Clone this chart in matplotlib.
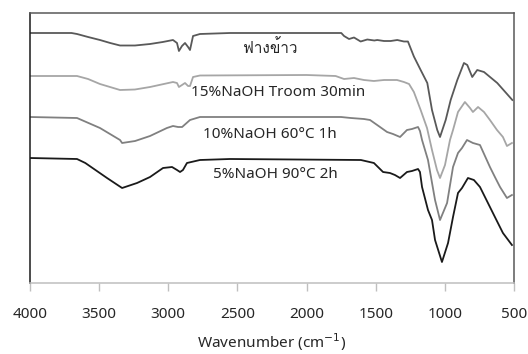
import matplotlib
matplotlib.use('Agg')
import matplotlib.pyplot as plt
from matplotlib import font_manager
from fontTools.ttLib import TTFont

# wavenumber (cm-1) and transmittance (a.u., curves offset)
w_straw = [4000, 3700, 3660, 3580, 3494, 3420, 3349, 3241, 3132, 3040, 2966, 2937, 2923, 2901, 2879,
           2857, 2843, 2821, 2771, 2554, 2000, 1749, 1729, 1693, 1657, 1609, 1561, 1510, 1489, 1440,
           1392, 1344, 1296, 1267, 1224, 1175, 1127, 1093, 1055, 1035, 994, 958, 910, 862, 838, 802,
           766, 717, 621, 512]
t_straw = [250, 250, 249, 246, 243, 240, 237.5, 237.5, 239, 241, 243, 240, 232, 237, 240,
           236, 233, 247, 249, 250, 250, 250, 247, 244, 245.5, 241.5, 243.5, 242.5, 243, 242,
           242, 243, 241.5, 241.5, 226.5, 213, 200, 173, 153, 146, 163, 183, 203, 220, 218, 206,
           213, 211, 200, 183]

w_15 = [4000, 3660, 3580, 3494, 3349, 3241, 3132, 2966, 2937, 2923, 2901, 2879, 2857, 2843, 2821,
        2771, 2000, 1790, 1729, 1657, 1585, 1513, 1440, 1346, 1296, 1259, 1224, 1175, 1129, 1093,
        1057, 1035, 999, 963, 941, 905, 855, 818, 797, 760, 717, 674, 623, 580, 551, 515]
t_15 = [207, 207, 204, 199, 193, 193.5, 196, 201, 200, 196, 198, 200, 197, 197, 206,
        207.5, 208, 207, 204, 205, 203, 202, 203, 203, 201, 199, 191, 173, 155, 133,
        113, 105, 118, 143, 153, 171, 181, 175, 171, 176, 171, 163, 153, 146, 137, 140]

w_10 = [4000, 3660, 3494, 3349, 3334, 3240, 3132, 3010, 2966, 2929, 2900, 2843, 2771, 1751, 1680,
        1585, 1541, 1469, 1418, 1375, 1324, 1274, 1238, 1194, 1180, 1165, 1122, 1071, 1035, 984,
        941, 905, 876, 840, 797, 746, 674, 638, 601, 551, 515]
t_10 = [166, 165, 155, 143, 140, 142, 147, 155, 157, 156, 156, 163, 166, 166, 165,
        164, 163, 156, 151, 149, 146, 153, 154, 156, 152, 143, 123, 83, 63, 80,
        116, 130, 135, 143, 140, 138, 116, 106, 96, 85, 88]

w_5 = [4000, 3660, 3600, 3443, 3334, 3226, 3132, 3038, 2973, 2937, 2915, 2894, 2865, 2771, 2554,
       1607, 1513, 1447, 1397, 1361, 1324, 1274, 1238, 1194, 1180, 1165, 1122, 1093, 1071, 1021,
       977, 941, 905, 876, 833, 790, 746, 674, 638, 580, 515]
t_5 = [125, 124, 120, 105, 95, 100, 106, 115, 116, 113, 111, 113, 120, 123, 124,
       123, 120, 111, 110, 108, 105, 111, 112, 114, 111, 96, 73, 63, 43, 21,
       40, 66, 90, 95, 105, 103, 96, 76, 66, 50, 38]

labels = ['ฟางข้าว', '15%NaOH Troom 30min', '10%NaOH 60°C 1h', '5%NaOH 90°C 2h']
label_x = [2265, 2207, 2265, 2228]
label_y = [235, 190, 148, 108]
colors = ['#595959', '#a6a6a6', '#808080', '#1a1a1a']
xticks = [4000, 3500, 3000, 2500, 2000, 1500, 1000, 500]


def thai_font():
    # first installed family that has Thai glyphs
    for f in font_manager.fontManager.ttflist:
        try:
            cmap = TTFont(f.fname, fontNumber=0, lazy=True).getBestCmap()
        except Exception:
            continue
        if cmap and 0x0E1F in cmap:
            return f.name
    return 'DejaVu Sans'


plt.rcParams['font.family'] = ['Noto Sans', 'DejaVu Sans']
thai = thai_font()

fig = plt.figure(figsize=(5.28, 3.54), dpi=100)
ax = fig.add_axes([30 / 528, 71 / 354, 484 / 528, 270 / 354])

series = [(w_straw, t_straw), (w_15, t_15), (w_10, t_10), (w_5, t_5)]
for (w, t), c in zip(series, colors):
    ax.plot(w, t, color=c, lw=1.3)

for i in range(len(labels)):
    fam = [thai, 'Noto Sans', 'DejaVu Sans'] if i == 0 else ['Noto Sans', 'DejaVu Sans']
    ax.text(label_x[i], label_y[i], labels[i], ha='center', va='center',
            fontsize=11, color='#262626', family=fam)

ax.set_xlim(4000, 500)
ax.set_ylim(0, 270)
ax.set_xticks(xticks)
ax.set_xticklabels([str(v) for v in xticks])
ax.set_yticks([])
ax.tick_params(axis='x', length=6, width=1, color='#bfbfbf', pad=11,
               labelsize=11, labelcolor='#262626')
ax.set_xlabel('Wavenumber (cm$^{-1}$)', fontsize=11, color='#262626', labelpad=7)

ax.spines['left'].set_color('#1a1a1a')
ax.spines['top'].set_color('#595959')
ax.spines['right'].set_color('#595959')
ax.spines['bottom'].set_color('#bfbfbf')
for s in ax.spines.values():
    s.set_linewidth(1.1)

fig.savefig('out.png', dpi=100)
